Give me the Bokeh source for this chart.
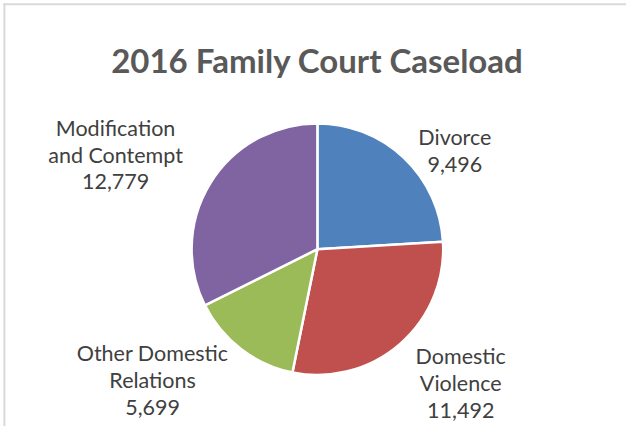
import numpy as np
from bokeh.plotting import figure
from bokeh.models import Range1d, ColumnDataSource
from bokeh.core.properties import value
from bokeh.embed import file_html
from bokeh.resources import INLINE

# ---- data ----
title = "2016 Family Court Caseload"
categories = ["Divorce", "Domestic Violence", "Other Domestic Relations", "Modification and Contempt"]
values = [9496, 11492, 5699, 12779]
label_lines = [["Divorce"], ["Domestic", "Violence"], ["Other Domestic", "Relations"], ["Modification", "and Contempt"]]
colors = ["#4F81BD", "#C0504D", "#9BBB59", "#8064A2"]

# ---- layout ----
W, H = 626, 426
REF_W, REF_H = 642, 442          # design space (top-left origin)
SX, SY = W / REF_W, H / REF_H


def fx(ix):
    return ix * SX


def fy(iy):
    return H - iy * SY


CX, CY, R = 325, 258, 129
label_anchor = [(466, 142), (472, 369), (156, 366), (118, 132)]  # centre x, first baseline
LINE_STEP = 28

p = figure(width=W, height=H, output_backend="svg", toolbar_location=None,
           x_range=Range1d(0, W), y_range=Range1d(0, H), min_border=0,
           outline_line_color=None)
p.axis.visible = False
p.grid.visible = False
p.background_fill_color = "white"

vals = np.array(values, dtype=float)
frac = vals / vals.sum()
cum = np.concatenate([[0], np.cumsum(frac)])
start = np.pi / 2 - 2 * np.pi * cum[:-1]
end = np.pi / 2 - 2 * np.pi * cum[1:]

src = ColumnDataSource(dict(start=start, end=end, color=colors, cat=categories, val=values))
p.wedge(x=fx(CX), y=fy(CY), radius=R * SX, radius_units="screen", start_angle="start",
        end_angle="end", direction="clock", fill_color="color", line_color="white",
        line_width=2.5, source=src)

# labels
tx, ty, tt = [], [], []
for lines, v, (ax, ay) in zip(label_lines, values, label_anchor):
    for k, s in enumerate(lines + [f"{v:,}"]):
        tx.append(fx(ax))
        ty.append(fy(ay + k * LINE_STEP))
        tt.append(s)
p.text(x=tx, y=ty, text=tt, text_font=value("Lato"), text_font_size="21.5px",
       text_color="#404040", text_align="center", text_baseline="alphabetic")

# title
p.text(x=[fx(325)], y=[fy(62)], text=[title], text_font=value("Lato"), text_font_size="33px",
       text_font_style="bold", text_color="#595959", text_align="center",
       text_baseline="alphabetic")

# chart border (left and top)
p.segment(x0=[fx(4), fx(3)], y0=[0, fy(4)], x1=[fx(4), W], y1=[fy(3), fy(4)],
          line_color="#D9D9D9", line_width=2)

open("out.html", "w").write(file_html(p, INLINE))
